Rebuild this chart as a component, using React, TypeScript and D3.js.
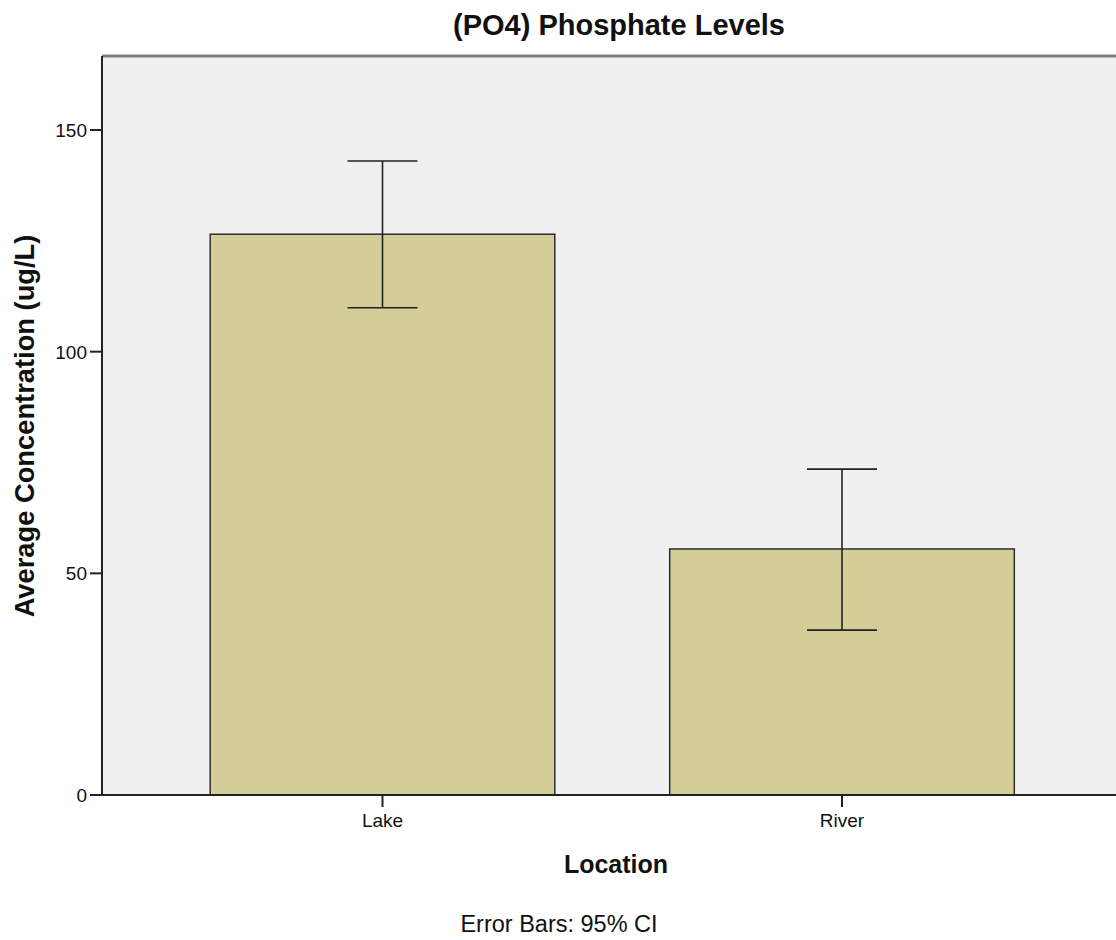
import React from "react";
import * as d3 from "d3";

const categories = ["Lake", "River"];
const means = [126.5, 55.5];
const ciLow = [109.9, 37.2];
const ciHigh = [143.0, 73.5];
const yTicks = [0, 50, 100, 150];

const W = 1116;
const H = 940;
const plotLeft = 102;
const plotRight = 1126;
const plotTop = 56;
const plotBottom = 795;

export default function App() {
  const x = d3
    .scaleBand<string>()
    .domain(categories)
    .range([152.75, 1071.75])
    .paddingInner(0.25)
    .paddingOuter(0.125);
  const y = d3.scaleLinear().domain([0, 166.7]).range([plotBottom, plotTop]);
  const font = "'Liberation Sans', Arial, sans-serif";
  const capW = 70;

  return (
    <svg
      width={W}
      height={H}
      style={{ position: "absolute", left: 0, top: 0, background: "#fff" }}
      fontFamily={font}
    >
      <rect x={0} y={0} width={W} height={H} fill="#ffffff" />
      <rect
        x={plotLeft}
        y={plotTop}
        width={plotRight - plotLeft}
        height={plotBottom - plotTop}
        fill="#f0f0f0"
      />
      <line x1={plotLeft} x2={plotRight} y1={plotTop} y2={plotTop} stroke="#7f7f7f" strokeWidth={3} />

      {categories.map((c, i) => (
        <rect
          key={c}
          x={x(c)}
          y={y(means[i])}
          width={x.bandwidth()}
          height={plotBottom - y(means[i])}
          fill="#d3ce97"
          stroke="#2e2e2e"
          strokeWidth={1.5}
        />
      ))}

      {categories.map((c, i) => {
        const cx = (x(c) as number) + x.bandwidth() / 2;
        return (
          <g key={c + "-err"} stroke="#222" strokeWidth={1.6}>
            <line x1={cx} x2={cx} y1={y(ciHigh[i])} y2={y(ciLow[i])} />
            <line x1={cx - capW / 2} x2={cx + capW / 2} y1={y(ciHigh[i])} y2={y(ciHigh[i])} />
            <line x1={cx - capW / 2} x2={cx + capW / 2} y1={y(ciLow[i])} y2={y(ciLow[i])} />
          </g>
        );
      })}

      <line x1={plotLeft} x2={plotLeft} y1={plotTop} y2={plotBottom + 1} stroke="#222" strokeWidth={2} />
      <line x1={plotLeft} x2={plotRight} y1={plotBottom} y2={plotBottom} stroke="#222" strokeWidth={2} />

      {yTicks.map((t) => (
        <g key={t}>
          <line x1={plotLeft - 12} x2={plotLeft} y1={y(t)} y2={y(t)} stroke="#222" strokeWidth={2} />
          <text x={plotLeft - 15} y={y(t) + 7} textAnchor="end" fontSize={19} fill="#111">
            {t}
          </text>
        </g>
      ))}

      {categories.map((c) => {
        const cx = (x(c) as number) + x.bandwidth() / 2;
        return (
          <g key={c + "-tick"}>
            <line x1={cx} x2={cx} y1={plotBottom} y2={plotBottom + 12} stroke="#222" strokeWidth={2} />
            <text x={cx} y={827} textAnchor="middle" fontSize={19} fill="#111">
              {c}
            </text>
          </g>
        );
      })}

      <text x={619} y={35} textAnchor="middle" fontSize={29} fontWeight="bold" fill="#111">
        (PO4) Phosphate Levels
      </text>
      <text x={616} y={873} textAnchor="middle" fontSize={25} fontWeight="bold" fill="#111">
        Location
      </text>
      <text
        transform={`translate(34,426) rotate(-90)`}
        textAnchor="middle"
        fontSize={27.3}
        fontWeight="bold"
        fill="#111"
      >
        Average Concentration (ug/L)
      </text>
      <text x={559} y={932} textAnchor="middle" fontSize={23.5} fill="#111">
        Error Bars: 95% CI
      </text>
    </svg>
  );
}
